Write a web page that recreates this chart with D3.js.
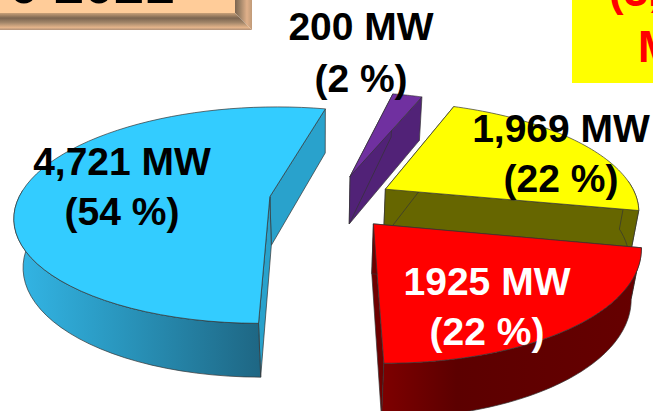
<!DOCTYPE html>
<html>
<head>
<meta charset="utf-8">
<script src="https://cdn.jsdelivr.net/npm/d3@7"></script>
<style>
  html, body { margin: 0; padding: 0; background: #fff; }
  text { font-family: "Liberation Sans", Arial, sans-serif; font-weight: bold; }
</style>
</head>
<body>
<div id="chart-container"></div>
<script>
// values, in pie order going clockwise
const names = ["Blue", "Purple", "Yellow", "Red"];
const megawatts = [4721, 200, 1969, 1925];
const mwLabels = ["4,721 MW", "200 MW", "1,969 MW", "1925 MW"];
const pctLabels = ["(54 %)", "(2 %)", "(22 %)", "(22 %)"];

const width = 653;
const height = 411;

// look of each slice
const topColor = ["#33ccff", "#7030a0", "#ffff00", "#ff0000"];
const cutColor = ["#29a2cc", "#512277", "#666600", "#6e0000"];
const textColor = ["#000", "#000", "#000", "#fff"];
const explodeX = [-50, 31, 66, 51];
const explodeY = [4, -46, -14, 66];
const labelX = [122, 361, 561, 487];
const labelY = [175, 40, 142, 295];
const labelGap = [50, 52, 50, 50];

// projection of the tilted pie
const radius = 250, tilt = 0.418, persp = 0.17, thick = 50, shrink = 0.03;
const vx = d3.scaleLinear().domain([0, 1]).range([320, 321]);
const vy = d3.scaleLinear().domain([0, 1]).range([195, 196]);

function project(px, py, z) {
  const w = 1 - persp * py / radius + shrink * z;
  return [vx(0) + px / w, vy(0) + (tilt * py + thick * z) / w];
}

const pie = d3.pie().sort(null).value(d => d)
  .startAngle(13 * Math.PI / 180)
  .endAngle(13 * Math.PI / 180 + 2 * Math.PI);

// the pie starts at the purple slice, blue closes the circle
const order = [1, 2, 3, 0];
const arcs = pie(order.map(i => megawatts[i]));
const slices = order.map((i, n) => ({ i, start: arcs[n].startAngle, end: arcs[n].endAngle }));

const line = d3.line().curve(d3.curveLinear);

const svg = d3.select("#chart-container").append("svg")
  .attr("width", width).attr("height", height)
  .style("display", "block");

const defs = svg.append("defs");
function gradient(id, x1, x2, stops) {
  const g = defs.append("linearGradient").attr("id", id)
    .attr("gradientUnits", "userSpaceOnUse")
    .attr("x1", x1).attr("x2", x2).attr("y1", 0).attr("y2", 0);
  stops.forEach(s => g.append("stop").attr("offset", s[0]).attr("stop-color", s[1]));
}
gradient("wall0", 15, 262, [[0, "#33b6e6"], [0.4, "#2a98c0"], [1, "#1e6683"]]);
gradient("wall3", 378, 640, [[0, "#800000"], [0.3, "#5c0000"], [1, "#660000"]]);
gradient("wall1", 0, 653, [[0, "#512277"], [1, "#512277"]]);
gradient("wall2", 0, 653, [[0, "#666600"], [1, "#666600"]]);

// header box, only its lower edge is in the frame
const box = { right: 235, bottom: 13, bevel: 15 };
const vGrad = defs.append("linearGradient").attr("id", "bevelV")
  .attr("gradientUnits", "userSpaceOnUse")
  .attr("x1", 0).attr("x2", 0).attr("y1", box.bottom).attr("y2", box.bottom + box.bevel + 2);
[[0, "#c8a078"], [0.3, "#7c6550"], [0.55, "#a08468"], [0.85, "#e4b48a"], [1, "#b09078"]]
  .forEach(s => vGrad.append("stop").attr("offset", s[0]).attr("stop-color", s[1]));
const hGrad = defs.append("linearGradient").attr("id", "bevelH")
  .attr("gradientUnits", "userSpaceOnUse")
  .attr("x1", box.right).attr("x2", box.right + box.bevel + 2).attr("y1", 0).attr("y2", 0);
[[0, "#7c6550"], [0.3, "#a08468"], [0.7, "#e0b08a"], [1, "#c09a78"]]
  .forEach(s => hGrad.append("stop").attr("offset", s[0]).attr("stop-color", s[1]));

svg.append("rect").attr("x", 0).attr("y", 0).attr("width", box.right).attr("height", box.bottom).attr("fill", "#ffcc99");
svg.append("path").attr("fill", "url(#bevelH)")
  .attr("d", line([[box.right, 0], [box.right + box.bevel + 2, 0], [box.right + box.bevel + 2, box.bottom + box.bevel + 2], [box.right, box.bottom]]) + "Z");
svg.append("path").attr("fill", "url(#bevelV)")
  .attr("d", line([[0, box.bottom], [box.right, box.bottom], [box.right + box.bevel + 2, box.bottom + box.bevel + 2], [0, box.bottom + box.bevel + 2]]) + "Z");
svg.append("text").attr("x", 9).attr("y", 3).attr("font-size", 54).attr("fill", "#000").text("0 2021");

// yellow note box at the top right, cut by the frame
svg.append("rect").attr("x", 572).attr("y", 0).attr("width", 81).attr("height", 83).attr("fill", "#ffff00");
svg.append("text").attr("x", 609).attr("y", 6).attr("font-size", 44).attr("fill", "#ff0000").text("(3,");
svg.append("text").attr("x", 638).attr("y", 62).attr("font-size", 44).attr("fill", "#ff0000").text("M");

function draw(s) {
  const ox = explodeX[s.i], oy = explodeY[s.i];
  const at = (a, r, z) => project(ox + r * Math.sin(a), oy - r * Math.cos(a), z);
  const steps = d3.range(0, 61).map(n => s.start + (s.end - s.start) * n / 60);
  const front = steps.filter(a => Math.cos(a) < 0.1);
  const g = svg.append("g").attr("class", "slice " + names[s.i]);
  const edge = sel => sel.attr("stroke", "#333").attr("stroke-width", 0.7).attr("stroke-linejoin", "round");

  // both cut faces
  [s.end, s.start].forEach(a => {
    g.append("path").attr("fill", cutColor[s.i]).call(edge)
      .attr("d", line([at(a, 0, 0), at(a, radius, 0), at(a, radius, 1), at(a, 0, 1)]) + "Z");
  });
  // outer wall, only the part that faces us
  if (front.length) {
    g.append("path").attr("fill", `url(#wall${s.i})`).call(edge)
      .attr("d", line(front.map(a => at(a, radius, 0)).concat(front.slice().reverse().map(a => at(a, radius, 1)))) + "Z");
  }
  // top face
  g.append("path").attr("fill", topColor[s.i]).call(edge)
    .attr("d", line([at(s.start, 0, 0)].concat(steps.map(a => at(a, radius, 0)))) + "Z");
}

// back to front: blue, purple, yellow, red
d3.range(names.length).forEach(i => draw(slices.find(s => s.i === i)));

names.forEach((n, i) => {
  svg.append("text").attr("x", labelX[i]).attr("y", labelY[i]).attr("text-anchor", "middle")
    .attr("font-size", 39).attr("fill", textColor[i]).text(mwLabels[i]);
  svg.append("text").attr("x", labelX[i]).attr("y", labelY[i] + labelGap[i]).attr("text-anchor", "middle")
    .attr("font-size", 39).attr("fill", textColor[i]).text(pctLabels[i]);
});
</script>
</body>
</html>
